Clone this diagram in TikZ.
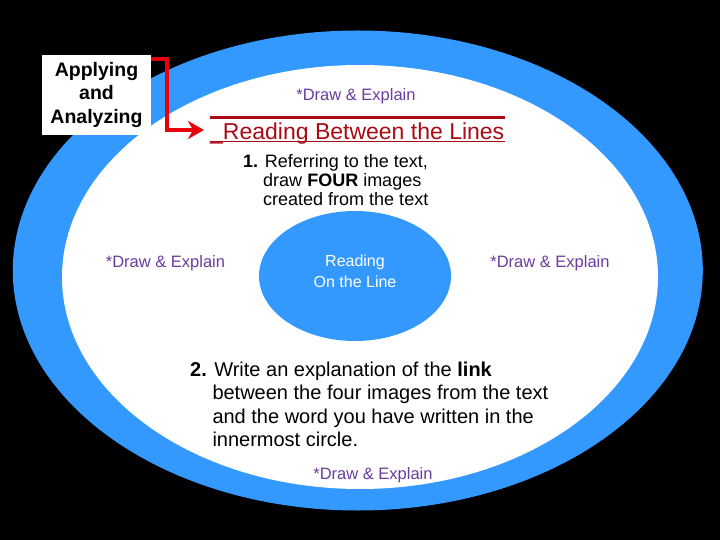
\documentclass[tikz,border=0pt]{standalone}
\usepackage{fontspec}
\setmainfont{Liberation Sans}
\usetikzlibrary{arrows.meta,shapes.geometric,calc}
\definecolor{ringblue}{RGB}{51,153,255}
\definecolor{purp}{RGB}{106,60,160}
\definecolor{darkred}{RGB}{170,10,20}
\definecolor{brightred}{RGB}{232,0,12}
\begin{document}
\begin{tikzpicture}[x=1pt,y=-1pt,
  appbox/.style={fill=white, minimum width=109pt, minimum height=80pt, inner sep=0pt,
    align=center, font=\fontsize{19.5}{23.5}\selectfont\bfseries},
  redarrow/.style={draw=brightred, line width=4pt, line join=miter,
    -{Stealth[length=16pt,width=18pt,inset=5pt]}},
  core/.style={ellipse, fill=ringblue, minimum width=192pt, minimum height=130pt, inner sep=0pt},
  coretext/.style={text=white, align=center, inner sep=0pt, font=\fontsize{16}{20.6}\selectfont},
  drawexp/.style={text=purp, inner sep=0pt, anchor=base, font=\fontsize{16.5}{19}\selectfont},
  title/.style={text=darkred, inner sep=0pt, anchor=base west, font=\fontsize{23}{26}\selectfont},
  stepone/.style={text=black, inner sep=0pt, anchor=base west, font=\fontsize{18}{20}\selectfont},
  steptwo/.style={text=black, inner sep=0pt, anchor=base west, font=\fontsize{20}{24}\selectfont}
]
\fill[black] (0,0) rectangle (720,540);
\useasboundingbox (0,0) rectangle (720,540);
% rings
\fill[ringblue] (357.8,270.5) ellipse [x radius=345, y radius=240];
\fill[white] (360,277) ellipse [x radius=298, y radius=212];
% core
\node[core] (core) at (355,276) {};
\node[coretext] (coretxt) at (355,271) {Reading\\On the Line};
% draw & explain labels
\node[drawexp] (deTop) at (356,100.7) {*Draw \& Explain};
\node[drawexp] (deLeft) at (165.5,267.6) {*Draw \& Explain};
\node[drawexp] (deRight) at (550,267.6) {*Draw \& Explain};
\node[drawexp] (deBot) at (373,479.4) {*Draw \& Explain};
% title
\draw[darkred, line width=3.5pt] (210,117.5) -- (505,117.5);
\node[title] (rbl) at (210,139.3) {\_Reading Between the Lines};
\draw[darkred, line width=1.8pt] (210,141.6) -- (505,141.6);
% step 1
\node[stepone] (s1a) at (243,167.3) {\textbf{1.} Referring to the text,};
\node[stepone] (s1b) at (263,186.5) {draw \textbf{FOUR} images};
\node[stepone] (s1c) at (263,206) {created from the text};
% step 2
\node[steptwo] (s2a) at (190,376) {\textbf{2.} Write an explanation of the \textbf{link}};
\node[steptwo] (s2b) at (212.3,399.5) {between the four images from the text};
\node[steptwo] (s2c) at (212.3,423.3) {and the word you have written in the};
\node[steptwo] (s2d) at (212.3,446.7) {innermost circle.};
% applying box and arrow
\node[appbox] (app) at (96.5,95) {Applying\\and\\Analyzing};
\coordinate (tip) at (204,130);
\draw[redarrow] ([yshift=-4pt]app.north east) -- ++(16,0) |- (tip);
\end{tikzpicture}
\end{document}
